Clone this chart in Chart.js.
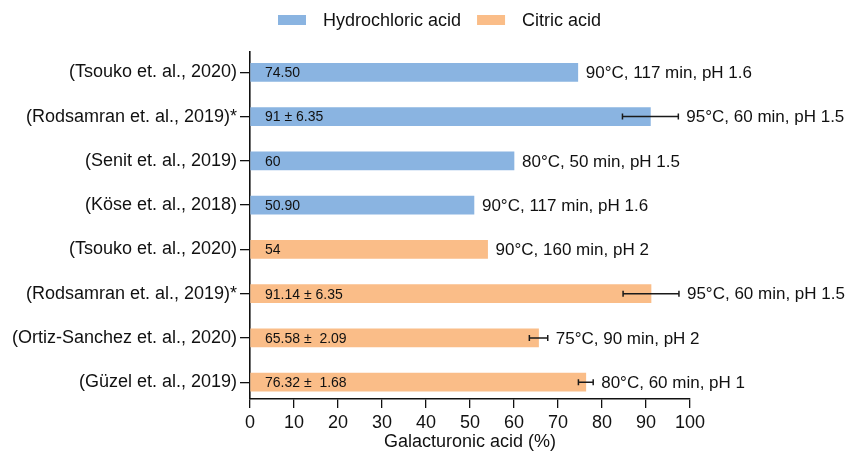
<!DOCTYPE html>
<html>
<head>
<meta charset="utf-8">
<script src="https://cdn.jsdelivr.net/npm/chart.js@4.4.1/dist/chart.umd.min.js"></script>
<style>
  html, body { margin: 0; padding: 0; background: #ffffff; }
  #wrap { width: 847px; height: 461px; }
</style>
</head>
<body>
<div id="wrap"><canvas id="chart" width="847" height="461"></canvas></div>
<script>
// Studies, top to bottom
const studies = [
  '(Tsouko et. al., 2020)',
  '(Rodsamran et. al., 2019)*',
  '(Senit et. al., 2019)',
  '(Köse et. al., 2018)',
  '(Tsouko et. al., 2020)',
  '(Rodsamran et. al., 2019)*',
  '(Ortiz-Sanchez et. al., 2020)',
  '(Güzel et. al., 2019)'
];

// Galacturonic acid yield (%) per extraction acid
const hclValues    = [74.5, 91, 60, 50.9, null, null, null, null];
const citricValues = [null, null, null, null, 54, 91.14, 65.58, 76.32];

// Standard deviations (where reported)
const hclErrors    = [null, 6.35, null, null, null, null, null, null];
const citricErrors = [null, null, null, null, null, 6.35, 2.09, 1.68];

// Text written inside each bar
const valueLabels = [
  '74.50', '91 ± 6.35', '60', '50.90',
  '54', '91.14 ± 6.35', '65.58 ±  2.09', '76.32 ±  1.68'
];

// Extraction conditions written after each bar
const conditions = [
  '90°C, 117 min, pH 1.6',
  '95°C, 60 min, pH 1.5',
  '80°C, 50 min, pH 1.5',
  '90°C, 117 min, pH 1.6',
  '90°C, 160 min, pH 2',
  '95°C, 60 min, pH 1.5',
  '75°C, 90 min, pH 2',
  '80°C, 60 min, pH 1'
];

const seriesNames = ['Hydrochloric acid', 'Citric acid'];
const xTickStep = 10;

const BLUE = '#8AB4E1';
const ORANGE = '#FABD88';
const INK = '#111111';
const FONT = "'Liberation Sans', Arial, sans-serif";

const rows = studies.map((_, i) => i);
const toPoints = vals => vals
  .map((v, i) => ({ x: v, y: i }))
  .filter(p => p.x !== null);

const errorSets = [hclErrors, citricErrors];

// Error bars, in-bar values and condition notes
const annotations = {
  id: 'annotations',
  afterDatasetsDraw(chart) {
    const ctx = chart.ctx;
    const xs = chart.scales.x;
    const left = chart.chartArea.left;
    ctx.save();
    chart.data.datasets.forEach((ds, di) => {
      const meta = chart.getDatasetMeta(di);
      meta.data.forEach((bar, j) => {
        const pt = ds.data[j];
        const row = pt.y;
        const yc = bar.y;
        let endX = bar.x;
        const err = errorSets[di][row];
        if (err) {
          const x1 = xs.getPixelForValue(pt.x - err);
          const x2 = xs.getPixelForValue(pt.x + err);
          ctx.strokeStyle = '#1a1a1a';
          ctx.lineWidth = 1.5;
          ctx.beginPath();
          ctx.moveTo(x1, yc); ctx.lineTo(x2, yc);
          ctx.moveTo(x1, yc - 3); ctx.lineTo(x1, yc + 3);
          ctx.moveTo(x2, yc - 3); ctx.lineTo(x2, yc + 3);
          ctx.stroke();
          endX = Math.max(endX, x2);
        }
        ctx.fillStyle = INK;
        ctx.textBaseline = 'middle';
        ctx.textAlign = 'left';
        ctx.font = '14px ' + FONT;
        ctx.fillText(valueLabels[row], left + 15, yc + 1);
        ctx.font = '17px ' + FONT;
        ctx.fillText(conditions[row], endX + 8, yc + 1);
      });
    });
    ctx.restore();
  }
};

// Legend row across the top
const topLegend = {
  id: 'topLegend',
  afterDraw(chart) {
    const ctx = chart.ctx;
    ctx.save();
    ctx.font = '18px ' + FONT;
    ctx.textBaseline = 'middle';
    ctx.textAlign = 'left';
    let x = 278;
    const yc = 20;
    chart.data.datasets.forEach(ds => {
      ctx.fillStyle = ds.backgroundColor;
      ctx.fillRect(x, yc - 5, 28, 10);
      x += 28 + 17;
      ctx.fillStyle = INK;
      ctx.fillText(ds.label, x, yc + 1);
      x += ctx.measureText(ds.label).width + 16;
    });
    ctx.restore();
  }
};

new Chart(document.getElementById('chart'), {
  type: 'bar',
  data: {
    datasets: [
      { label: seriesNames[0], data: toPoints(hclValues), backgroundColor: BLUE },
      { label: seriesNames[1], data: toPoints(citricValues), backgroundColor: ORANGE }
    ]
  },
  options: {
    responsive: false,
    animation: false,
    indexAxis: 'y',
    layout: { padding: { top: 52, right: 157, bottom: 4, left: 0 } },
    datasets: { bar: { barThickness: 18, grouped: false } },
    plugins: { legend: { display: false }, tooltip: { enabled: false } },
    scales: {
      x: {
        type: 'linear',
        min: 0,
        max: 100,
        ticks: { stepSize: xTickStep, color: INK, font: { family: FONT, size: 18 }, padding: 4 },
        grid: { drawOnChartArea: false, drawTicks: true, tickLength: 9, color: INK, lineWidth: 1.3 },
        border: { display: true, color: INK, width: 1.6 },
        title: {
          display: true,
          text: 'Galacturonic acid (%)',
          color: INK,
          font: { family: FONT, size: 18 },
          padding: { top: 2, bottom: 4 }
        },
        afterFit(scale) { scale.height = 58; }
      },
      y: {
        type: 'linear',
        reverse: true,
        offset: false,
        min: -0.46,
        max: 7.38,
        afterBuildTicks(scale) { scale.ticks = rows.map(v => ({ value: v })); },
        ticks: {
          autoSkip: false,
          color: INK,
          font: { family: FONT, size: 18 },
          padding: 3,
          callback: v => studies[v]
        },
        grid: { offset: false, drawOnChartArea: false, drawTicks: true, tickLength: 10, color: INK, lineWidth: 1.3 },
        border: { display: true, color: INK, width: 1.6 },
        afterFit(scale) { scale.width = 250; }
      }
    }
  },
  plugins: [annotations, topLegend]
});
</script>
</body>
</html>
